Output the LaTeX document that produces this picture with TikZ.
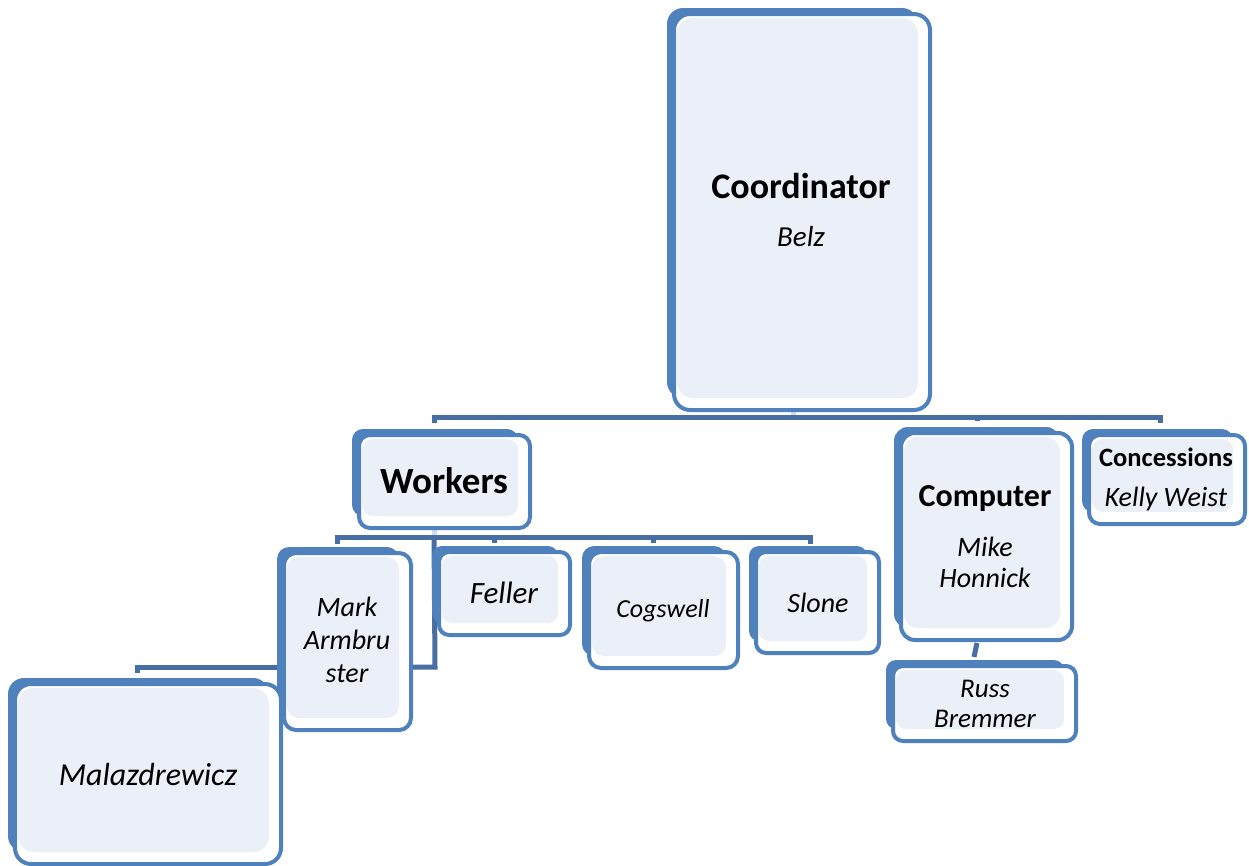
\documentclass[tikz,border=0pt]{standalone}
\usepackage{fontspec}
\setmainfont{Carlito}
\definecolor{boxblue}{HTML}{4F81BD}
\definecolor{boxlight}{HTML}{EBF0F8}
\definecolor{connblue}{HTML}{476FA3}
\definecolor{stemlight}{HTML}{D3DCEB}
\pgfdeclarelayer{bg}
\pgfsetlayers{bg,main}
\tikzset{
  conn/.style={draw=connblue,line width=5pt},
  stemline/.style={draw=stemlight,line width=5pt},
  orgtext/.style={align=center,inner sep=0pt,text=black},
  orgshape/.style={inner sep=0pt,outer sep=0pt,draw=none}
}
\newcommand\orgbox[6]{%
  \fill[boxblue,rounded corners=#6pt] (#2,#3) rectangle ({#4-14},{#5-14});
  \filldraw[fill=white,draw=boxblue,line width=4pt,rounded corners=#6pt] ({#2+7},{#3+6}) rectangle ({#4-2},{#5-2});
  \fill[boxlight,rounded corners=#6pt] ({#2+10},{#3+10}) rectangle ({#4-14},{#5-14});
  \node[orgshape,minimum width={(#4-#2)*1pt},minimum height={(#5-#3)*1pt}] (#1) at ({(#2+#4)/2},{(#3+#5)/2}) {};
}
\newcommand\itsz[2]{\fontsize{#1}{#2}\selectfont\itshape}
\newcommand\bfsz[1]{\fontsize{#1}{#1}\selectfont\upshape\bfseries}
\begin{document}
\begin{tikzpicture}[x=1pt,y=-1pt]
\useasboundingbox (0,0) rectangle (1249,865);

\orgbox{coord}{667}{8}{932}{412}{16}
\orgbox{workers}{352}{429}{532}{530}{11}
\orgbox{comp}{894}{427}{1074}{642}{14}
\orgbox{conc}{1082}{429}{1247}{526}{11}
\orgbox{mark}{277}{547}{413}{732}{12}
\orgbox{feller}{432}{546}{572}{637}{10}
\orgbox{cogs}{582}{546}{740}{670}{12}
\orgbox{slone}{749}{546}{881}{655}{10}
\orgbox{russ}{886}{660}{1078}{743}{10}
\orgbox{mala}{8}{678}{283}{866}{16}

\node[orgtext,font=\itsz{29}{48}] (coord-t) at (801,210) {{\bfsz{36}Coordinator}\\Belz};
\node[orgtext,font=\bfsz{37}] (workers-t) at (444,481) {Workers};
\node[orgtext,font=\itsz{28}{31}] (comp-t) at (985,537) {{\bfsz{32}Computer}\\[19pt]Mike\\Honnick};
\node[orgtext,font=\itsz{28}{40}] (conc-t) at (1166,479) {{\bfsz{26.5}Concessions}\\Kelly Weist};
\node[orgtext,font=\itsz{28}{33}] (mark-t) at (347,640) {Mark\\Armbru\\ster};
\node[orgtext,font=\itsz{32}{32}] (mala-t) at (148,774) {Malazdrewicz};
\node[orgtext,font=\itsz{31}{31}] (feller-t) at (504,593) {Feller};
\node[orgtext,font=\itsz{26}{26}] (cogs-t) at (663,611) {Cogswell};
\node[orgtext,font=\itsz{28}{28}] (slone-t) at (818,603) {Slone};
\node[orgtext,font=\itsz{27}{30}] (russ-t) at (985,704) {Russ\\Bremmer};

\begin{pgfonlayer}{bg}
  % top level bus
  \coordinate (tbus) at (793,417);
  \coordinate (tb-w) at (434,423);
  \coordinate (tb-c) at (977,421);
  \coordinate (tb-k) at (1160,423);
  \draw[stemline] ([xshift=-6.5pt,yshift=5pt]coord.south) -- (tbus);
  \draw[conn] (tb-w) -- (tb-w |- tbus) -- (tb-k |- tbus) -- (tb-k);
  \draw[conn] (tb-c |- tbus) -- (tb-c);
  % workers bus
  \coordinate (wbus) at (434,537);
  \coordinate (wb-1) at (337,544);
  \coordinate (wb-2) at (494,543);
  \coordinate (wb-3) at (653,543);
  \coordinate (wb-4) at (810,544);
  \draw[stemline] ([xshift=-8pt,yshift=4pt]workers.south) -- (wbus);
  \draw[conn] (wb-1) -- (wb-1 |- wbus) -- (wb-4 |- wbus) -- (wb-4);
  \draw[conn] (wb-2 |- wbus) -- (wb-2);
  \draw[conn] (wb-3 |- wbus) -- (wb-3);
  % workers to Mark Armbruster
  \coordinate (mk) at (435,667);
  \draw[conn] (wbus) -- (mk) -- (mk -| mark.east);
  % Mark to Malazdrewicz
  \coordinate (ml) at (137,667);
  \draw[conn] ([xshift=2pt]mk -| mark.west) -- (ml) -- ([yshift=-6pt]ml);
  % Computer to Russ
  \draw[conn] ([xshift=-7pt,yshift=-1pt]comp.south) -- ([xshift=-8pt,yshift=3pt]russ.north);
\end{pgfonlayer}
\end{tikzpicture}
\end{document}
